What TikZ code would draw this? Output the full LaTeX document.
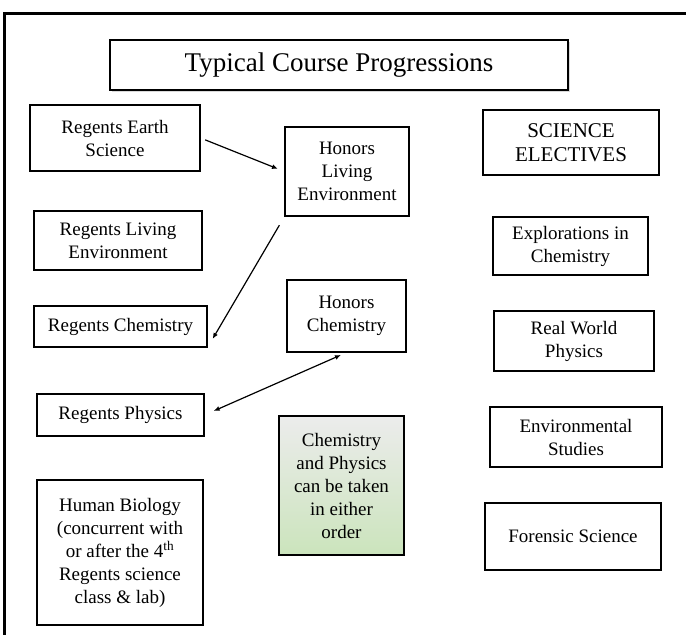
\documentclass[tikz,border=0pt]{standalone}
\usepackage{fontspec}
\setmainfont{Liberation Serif}
\usetikzlibrary{arrows.meta,shadows}
\definecolor{notegreen}{RGB}{203,228,188}
\definecolor{notegray}{RGB}{236,236,236}

\begin{document}
\begin{tikzpicture}[x=1pt, y=-1pt, thick,
  course/.style={draw, line width=1.1pt, align=center, inner sep=2pt,
    font=\fontsize{19}{23}\selectfont},
  heading/.style={course, line width=2.4pt},
  prog/.style={-{Latex[length=6pt,width=5pt]}, line width=1.2pt}]
\useasboundingbox (0,0) rectangle (686,635);
% outer frame
\draw[line width=3pt] (4,635) -- (4,13) -- (686,13);
% title
\node[heading, fill=white, drop shadow={shadow xshift=2pt, shadow yshift=-2pt, opacity=0.3},
  minimum width=458pt, minimum height=50pt, font=\fontsize{27}{32}\selectfont]
  (Title) at (339,65) {Typical Course Progressions};
% left column
\node[course, minimum width=170pt, minimum height=66pt] (Earth) at (115,138) {Regents Earth\\Science};
\node[course, minimum width=168pt, minimum height=59pt] (RLiving) at (118,240.5) {Regents Living\\Environment};
\node[course, minimum width=173pt, minimum height=41pt] (RChem) at (120.5,326.5) {Regents Chemistry};
\node[course, minimum width=167pt, minimum height=42pt] (RPhys) at (120.5,415) {Regents Physics};
\node[course, minimum width=166pt, minimum height=145pt] (HBio) at (120,552.5)
  {Human Biology\\(concurrent with\\or after the 4\textsuperscript{th}\\Regents science\\class \& lab)};
% middle column
\node[course, minimum width=124pt, minimum height=89pt] (HLiving) at (347,171.5) {Honors\\Living\\Environment};
\node[course, minimum width=119pt, minimum height=72pt] (HChem) at (346.5,316) {Honors\\Chemistry};
\node[course, top color=notegray, bottom color=notegreen, minimum width=125pt, minimum height=139pt]
  (Note) at (341.5,485.5) {Chemistry\\and Physics\\can be taken\\in either\\order};
% electives
\node[heading, minimum width=176pt, minimum height=65pt, font=\fontsize{21}{24}\selectfont]
  (Electives) at (571,142.5) {SCIENCE\\ELECTIVES};
\node[course, minimum width=155pt, minimum height=58pt] (Explor) at (570.5,246) {Explorations in\\Chemistry};
\node[course, minimum width=160pt, minimum height=60pt] (RealWorld) at (574,341) {Real World\\Physics};
\node[course, minimum width=172pt, minimum height=60pt] (EnvStud) at (576,437) {Environmental\\Studies};
\node[course, minimum width=176pt, minimum height=67pt] (Forensic) at (573,536.5) {Forensic Science};
% progressions
\draw[prog, shorten <=5pt, shorten >=7pt] (Earth.east) -- (HLiving.west);
\draw[prog, shorten <=10pt, shorten >=10pt] (HLiving.south west) -- (RChem.south east);
\draw[prog, {Latex[length=6pt,width=5pt]}-{Latex[length=6pt,width=5pt]}, shorten <=10pt, shorten >=6pt]
  (RPhys.east) -- (HChem.south);
\end{tikzpicture}
\end{document}
